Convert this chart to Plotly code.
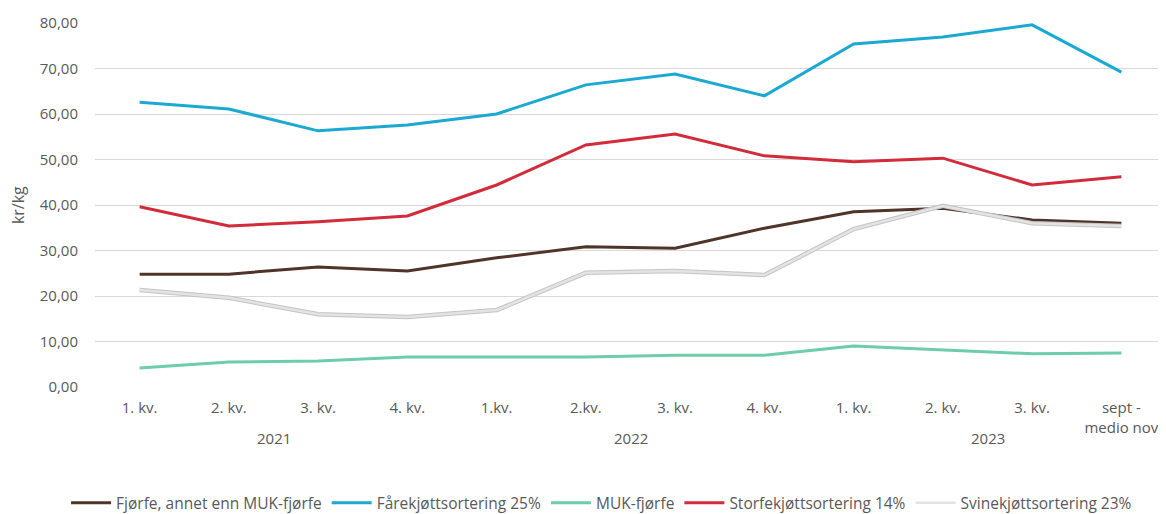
import plotly.graph_objects as go

categories = ["1. kv.", "2. kv.", "3. kv.", "4. kv.", "1.kv.", "2.kv.", "3. kv.", "4. kv.",
              "1. kv.", "2. kv.", "3. kv.", "sept -<br>medio nov"]
years = ["2021", "2022", "2023"]

fjorfe = [24.8, 24.8, 26.4, 25.5, 28.4, 30.8, 30.5, 34.9, 38.5, 39.3, 36.7, 36.0]
farekjott = [62.6, 61.1, 56.3, 57.6, 60.0, 66.4, 68.8, 64.0, 75.4, 76.9, 79.6, 69.2]
muk = [4.2, 5.5, 5.7, 6.6, 6.6, 6.6, 7.0, 7.0, 9.0, 8.1, 7.3, 7.5]
storfe = [39.6, 35.4, 36.3, 37.6, 44.4, 53.2, 55.6, 50.8, 49.5, 50.3, 44.4, 46.2]
svine = [21.3, 19.6, 16.0, 15.4, 16.9, 25.1, 25.5, 24.6, 34.7, 39.8, 36.0, 35.4]

x = list(range(len(categories)))
font = "Open Sans"
grey = "#595959"
fs = 15

fig = go.Figure()
series = [
    ("Fjørfe, annet enn MUK-fjørfe", fjorfe, "#4f3428"),
    ("Fårekjøttsortering 25%", farekjott, "#1aa9d1"),
    ("MUK-fjørfe", muk, "#6dcca9"),
    ("Storfekjøttsortering 14%", storfe, "#d22b3a"),
]
for name, vals, col in series:
    fig.add_trace(go.Scatter(x=x, y=vals, mode="lines", name=name,
                             line=dict(color=col, width=3)))
# Svine: darker edge underneath, light grey on top
fig.add_trace(go.Scatter(x=x, y=svine, mode="lines", name="Svinekjøttsortering 23%",
                         line=dict(color="#c4c4c4", width=4.5), showlegend=False,
                         legendgroup="svine", hoverinfo="skip"))
fig.add_trace(go.Scatter(x=x, y=svine, mode="lines", name="Svinekjøttsortering 23%",
                         line=dict(color="#e3e3e3", width=2.5), legendgroup="svine"))

for i, yr in enumerate(years):
    fig.add_annotation(x=4 * i + 1.5, y=-0.14, xref="x", yref="paper", text=yr,
                       showarrow=False, font=dict(family=font, size=fs, color=grey),
                       yanchor="middle")

fig.add_annotation(x=-0.0718, y=0.5, xref="paper", yref="paper", text="kr/kg",
                   textangle=-90, showarrow=False, xanchor="center", yanchor="middle",
                   font=dict(family=font, size=16, color=grey))

fig.update_layout(
    width=1158, height=506,
    margin=dict(l=87, r=0, t=15, b=127, autoexpand=False),
    paper_bgcolor="white", plot_bgcolor="white",
    font=dict(family=font, size=fs, color=grey),
    showlegend=True,
    legend=dict(orientation="h", x=0.473, xanchor="center", y=-0.319, yanchor="middle",
                font=dict(family=font, size=15.5, color=grey), itemwidth=40,
                tracegroupgap=0),
    xaxis=dict(tickmode="array", tickvals=x, ticktext=categories, range=[-0.5, 11.5],
               showgrid=False, zeroline=False, showline=False, ticks="", automargin=False,
               ticklabelstandoff=10,
               tickfont=dict(family=font, size=fs, color=grey)),
    yaxis=dict(range=[0, 80], dtick=10, tickformat=".2f",
               showgrid=True, gridcolor="#d9d9d9", gridwidth=1, zeroline=False,
               showline=False, ticks="", ticklabelstandoff=16, automargin=False,
               tickfont=dict(family=font, size=fs, color=grey)),
    separators=", ",
)

fig.write_html("out.html")
